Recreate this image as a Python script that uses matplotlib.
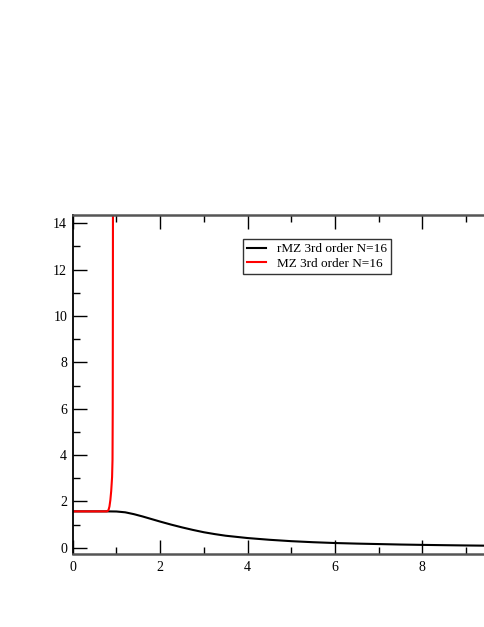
import matplotlib
matplotlib.use("Agg")
import matplotlib.pyplot as plt
from matplotlib.ticker import MultipleLocator, FuncFormatter

plt.rcParams['font.family'] = ['Liberation Serif', 'DejaVu Serif']

# rMZ 3rd order N=16 (black)
rmz_x = [0.0, 0.5, 0.8, 1.0, 1.2, 1.4, 1.6, 1.8, 2.0, 2.25, 2.5, 2.75, 3.0,
         3.25, 3.5, 3.75, 4.0, 4.5, 5.0, 5.5, 6.0, 6.5, 7.0, 7.5, 8.0, 8.5, 9.0, 9.5, 10.0]
rmz_y = [1.57, 1.57, 1.57, 1.565, 1.53, 1.45, 1.35, 1.24, 1.13, 1.0, 0.88, 0.77, 0.67,
         0.59, 0.52, 0.47, 0.42, 0.345, 0.285, 0.24, 0.205, 0.18, 0.16, 0.14, 0.125, 0.112,
         0.10, 0.09, 0.082]

# MZ 3rd order N=16 (red)
mz_x = [0.0, 0.5, 0.78, 0.80, 0.82, 0.84, 0.86, 0.88, 0.90, 0.91, 0.915, 0.918, 0.92]
mz_y = [1.57, 1.57, 1.57, 1.59, 1.64, 1.78, 2.05, 2.45, 3.05, 3.8, 6.0, 10.0, 14.37]

labels = ["rMZ 3rd order N=16", "MZ 3rd order N=16"]
x_tick_labels = ["0", "2", "4", "6", "8", ""]

fig = plt.figure(figsize=(4.85, 6.27), dpi=100)
ax = fig.add_axes([0.150, 0.116, 0.901, 0.5416])

ax.plot(rmz_x, rmz_y, color='black', lw=1.5, label=labels[0])
ax.plot(mz_x, mz_y, color='#ff0000', lw=1.5, label=labels[1])

ax.set_xlim(0, 10)
ax.set_ylim(-0.28, 14.37)

ax.xaxis.set_major_locator(MultipleLocator(2))
ax.xaxis.set_minor_locator(MultipleLocator(1))
ax.yaxis.set_major_locator(MultipleLocator(2))
ax.yaxis.set_minor_locator(MultipleLocator(1))
ax.xaxis.set_major_formatter(FuncFormatter(
    lambda v, p: x_tick_labels[int(round(v / 2))] if 0 <= round(v / 2) < len(x_tick_labels) else ""))

ax.tick_params(which='both', direction='in', top=True, right=True,
               labelsize=10, colors='black', width=1)
ax.tick_params(which='major', length=10)
ax.tick_params(which='minor', length=5)
ax.tick_params(axis='x', pad=5)
ax.tick_params(axis='y', pad=4)

for s in ['left', 'right']:
    ax.spines[s].set_color('black')
    ax.spines[s].set_linewidth(1.3)
for s in ['top', 'bottom']:
    ax.spines[s].set_color('#555555')
    ax.spines[s].set_linewidth(1.8)

leg = fig.legend(loc='upper left', bbox_to_anchor=(242.7 / 485, 1 - 239.3 / 627),
                 bbox_transform=fig.transFigure, borderaxespad=0,
                 fontsize=9.5, frameon=True, fancybox=False, edgecolor='black',
                 handlelength=1.5, handletextpad=0.8, labelspacing=0.15,
                 borderpad=0.3)
leg.get_frame().set_linewidth(1.0)

fig.savefig("out.png", dpi=100)
